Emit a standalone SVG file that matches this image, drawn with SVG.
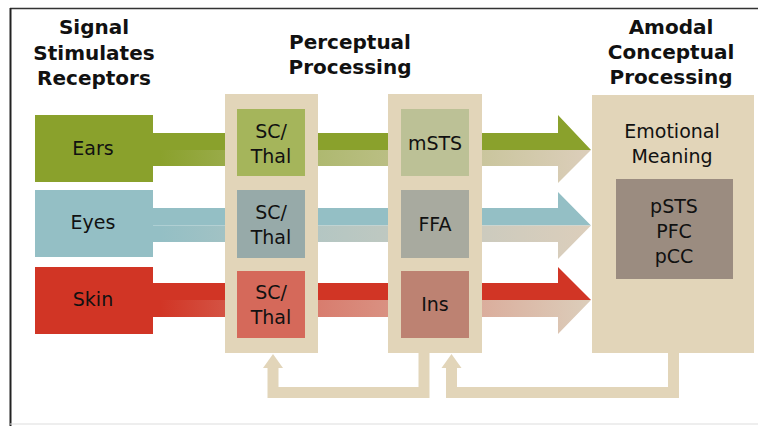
<svg xmlns="http://www.w3.org/2000/svg" width="758" height="426" viewBox="0 0 758 426">
<style>
.h{font-family:"DejaVu Sans",Verdana,sans-serif;font-weight:bold;font-size:20px;fill:#111;text-anchor:middle}
.t{font-family:"DejaVu Sans",Verdana,sans-serif;font-size:19px;fill:#111;text-anchor:middle}
.beige{fill:#e2d5b9}
.fb{fill:none;stroke:#e2d5b9;stroke-width:11}
</style>
<defs>
<linearGradient id="gG" gradientUnits="userSpaceOnUse" x1="160" y1="0" x2="591" y2="0">
<stop offset="0" stop-color="#8aa12c"/><stop offset="0.35" stop-color="#adb86e"/><stop offset="1" stop-color="#dccebb"/>
</linearGradient>
<linearGradient id="gB" gradientUnits="userSpaceOnUse" x1="160" y1="0" x2="591" y2="0">
<stop offset="0" stop-color="#94bfc5"/><stop offset="0.35" stop-color="#b3c6c3"/><stop offset="1" stop-color="#dccebb"/>
</linearGradient>
<linearGradient id="gR" gradientUnits="userSpaceOnUse" x1="160" y1="0" x2="591" y2="0">
<stop offset="0" stop-color="#d13525"/><stop offset="0.35" stop-color="#d87a6c"/><stop offset="1" stop-color="#dccebb"/>
</linearGradient>
<marker id="ah" viewBox="0 0 20 14" refX="0" refY="7" markerWidth="20" markerHeight="14" markerUnits="userSpaceOnUse" orient="auto">
<path d="M0,0 L20,7 L0,14 Z" fill="#e2d5b9"/>
</marker>
</defs>
<rect width="758" height="426" fill="#fff"/>
<line x1="10" y1="8.5" x2="758" y2="8.5" stroke="#333" stroke-width="1.5"/>
<line x1="10.5" y1="8" x2="10.5" y2="426" stroke="#222" stroke-width="2"/>
<line x1="10" y1="424" x2="758" y2="424" stroke="#ddd" stroke-width="1"/>

<g id="headings">
<text class="h" x="94" y="34">Signal</text>
<text class="h" x="94" y="60">Stimulates</text>
<text class="h" x="94" y="85">Receptors</text>
<text class="h" x="350" y="49">Perceptual</text>
<text class="h" x="350" y="74">Processing</text>
<text class="h" x="671" y="34">Amodal</text>
<text class="h" x="671" y="59">Conceptual</text>
<text class="h" x="671" y="84">Processing</text>
</g>

<g id="connectors">
<!-- Ears arrow -->
<path d="M153,133 H558 V115 L591,150 H153 Z" fill="#8aa12c"/>
<path d="M153,150 H591 L558,183 V166 H153 Z" fill="url(#gG)"/>
<!-- Eyes arrow -->
<path d="M153,208 H558 V192 L591,225.5 H153 Z" fill="#94bfc5"/>
<path d="M153,225.5 H591 L558,259 V242 H153 Z" fill="url(#gB)"/>
<!-- Skin arrow -->
<path d="M153,283 H558 V267 L591,300 H153 Z" fill="#d13525"/>
<path d="M153,300 H591 L558,334 V317 H153 Z" fill="url(#gR)"/>
<!-- feedback -->
<path class="fb" d="M424,352 V392.5 H273 V368" />
<path d="M263,368 L273,354 L283,368 Z" class="beige"/>
<path class="fb" d="M673.5,352 V392.5 H451.5 V368" />
<path d="M441.5,368 L451.5,354 L461.5,368 Z" class="beige"/>
</g>

<g id="ears">
<rect x="35" y="115" width="118" height="67" fill="#8aa12c"/>
<text class="t" x="93" y="155">Ears</text>
</g>
<g id="eyes">
<rect x="35" y="190" width="118" height="67" fill="#94bfc5"/>
<text class="t" x="93" y="229">Eyes</text>
</g>
<g id="skin">
<rect x="35" y="267" width="118" height="67" fill="#d13525"/>
<text class="t" x="93" y="306">Skin</text>
</g>

<g id="perceptual1">
<rect x="225" y="94" width="93" height="259" class="beige"/>
<g id="scthal-ears">
<rect x="237" y="109" width="68" height="67" fill="#a5b55b"/>
<text class="t" x="271" y="138">SC/</text><text class="t" x="271" y="163">Thal</text>
</g>
<g id="scthal-eyes">
<rect x="237" y="190" width="68" height="68" fill="#97aaa9"/>
<text class="t" x="271" y="219">SC/</text><text class="t" x="271" y="244">Thal</text>
</g>
<g id="scthal-skin">
<rect x="237" y="271" width="68" height="67" fill="#d5695a"/>
<text class="t" x="271" y="299">SC/</text><text class="t" x="271" y="324">Thal</text>
</g>
</g>

<g id="perceptual2">
<rect x="388" y="94" width="94" height="259" class="beige"/>
<g id="msts">
<rect x="401" y="109" width="68" height="67" fill="#bcc196"/>
<text class="t" x="435" y="150">mSTS</text>
</g>
<g id="ffa">
<rect x="401" y="190" width="68" height="68" fill="#a8aa9f"/>
<text class="t" x="435" y="231">FFA</text>
</g>
<g id="ins">
<rect x="401" y="271" width="68" height="67" fill="#bd8272"/>
<text class="t" x="435" y="311">Ins</text>
</g>
</g>

<g id="amodal">
<rect x="592" y="95" width="162" height="258" class="beige"/>
<text class="t" x="672" y="138">Emotional</text>
<text class="t" x="672" y="163">Meaning</text>
<g id="regions">
<rect x="616" y="179" width="117" height="100" fill="#9b8c80"/>
<text class="t" x="674" y="213">pSTS</text>
<text class="t" x="674" y="238">PFC</text>
<text class="t" x="674" y="263">pCC</text>
</g>
</g>
</svg>
